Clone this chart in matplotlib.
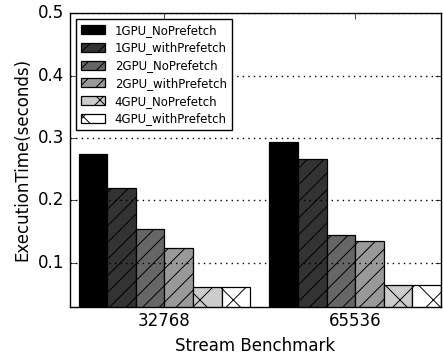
#!/usr/bin/env python3
"""Stream benchmark execution time, grouped bars per GPU/prefetch config."""
import numpy as np
import matplotlib
matplotlib.use("Agg")
import matplotlib.pyplot as plt

plt.style.use("classic")
plt.rcParams["hatch.linewidth"] = 0.7

benchmarks = ["32768", "65536"]
configs = ["1GPU_NoPrefetch", "1GPU_withPrefetch", "2GPU_NoPrefetch",
           "2GPU_withPrefetch", "4GPU_NoPrefetch", "4GPU_withPrefetch"]
times = {
    "1GPU_NoPrefetch": [0.274, 0.294],
    "1GPU_withPrefetch": [0.220, 0.266],
    "2GPU_NoPrefetch": [0.1535, 0.145],
    "2GPU_withPrefetch": [0.123, 0.1345],
    "4GPU_NoPrefetch": [0.061, 0.065],
    "4GPU_withPrefetch": [0.061, 0.065],
}
colors = ["#000000", "#333333", "#666666", "#999999", "#cccccc", "#ffffff"]
hatches = [None, "//", "//", "//", "x", "x"]

width = 0.15
ind = np.arange(len(benchmarks))

fig = plt.figure(figsize=(4.43, 3.54), dpi=100, facecolor="white")
ax = fig.add_axes([0.158, 0.134, 0.8375, 0.829])

for j, name in enumerate(configs):
    ax.bar(ind + j * width, times[name], width, align="edge", color=colors[j],
           edgecolor="black", hatch=hatches[j], linewidth=0.9, label=name, zorder=2)

ax.set_xlim(-0.045, 1.9)
ax.set_ylim(0.03, 0.5)
ax.set_yticks([0.1, 0.2, 0.3, 0.4, 0.5])
ax.set_xticks(ind + 3 * width)
ax.set_xticklabels(benchmarks)
ax.tick_params(labelsize=12)
ax.set_axisbelow(False)
ax.yaxis.grid(True, linestyle=":", color="black", linewidth=1, zorder=3)
ax.set_xlabel("Stream Benchmark", fontsize=12)
ax.set_ylabel("ExecutionTime(seconds)", fontsize=12)
ax.legend(loc="upper left", fontsize=8.5, fancybox=False, handlelength=2.1,
          handleheight=0.8, labelspacing=0.4, borderaxespad=0.5)

fig.savefig("out.png", dpi=100, facecolor="white")
